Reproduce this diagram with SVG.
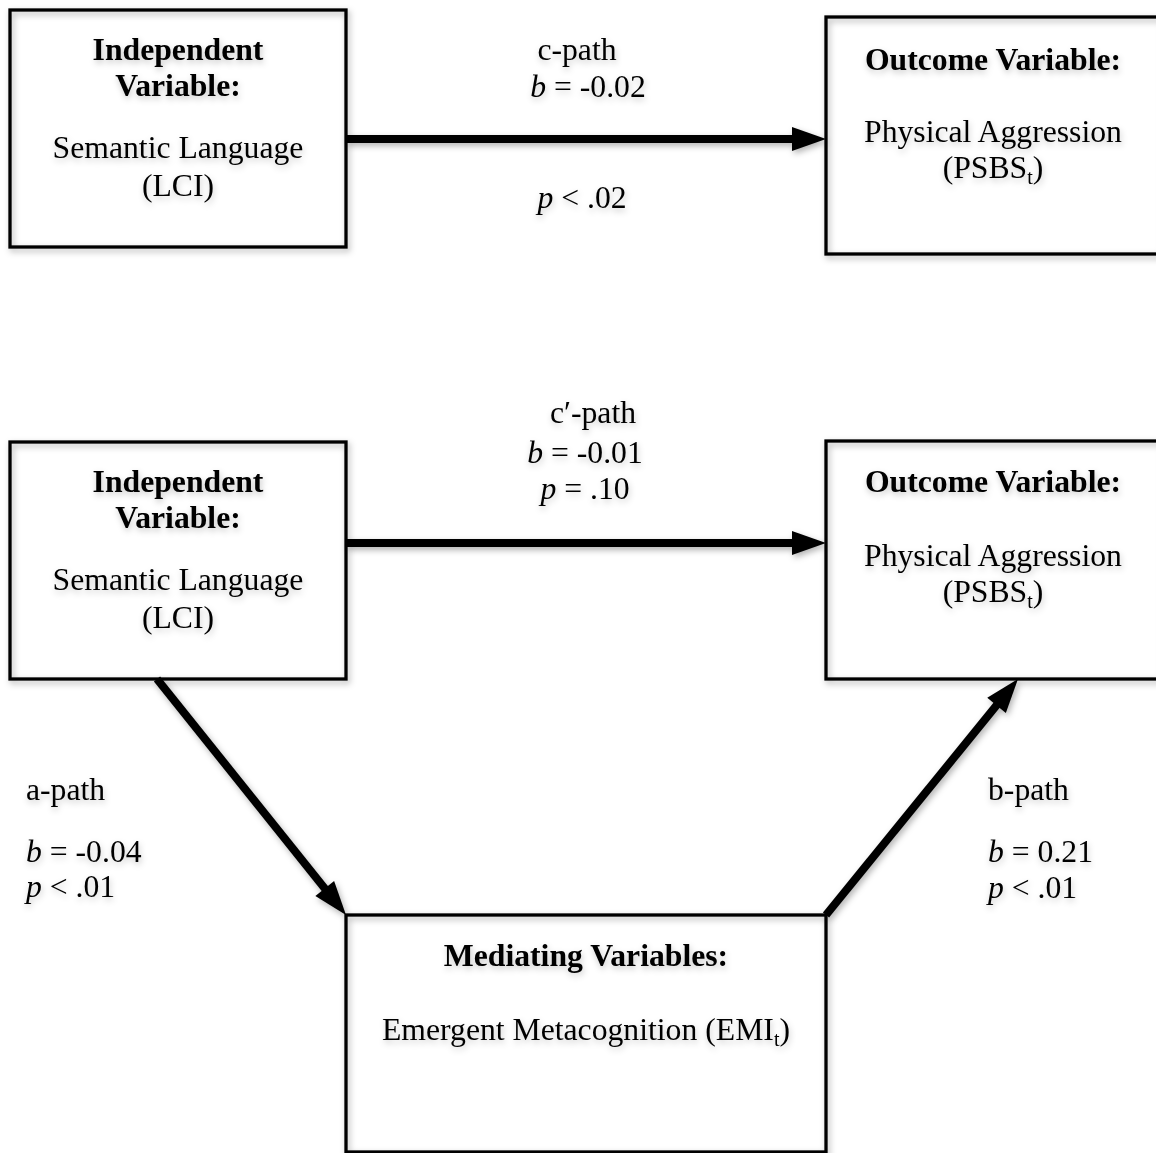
<svg xmlns="http://www.w3.org/2000/svg" width="1156" height="1153" viewBox="0 0 1156 1153">
<defs>
<filter id="sh" x="-10%" y="-10%" width="120%" height="120%">
<feDropShadow dx="2" dy="3" stdDeviation="3" flood-color="#000" flood-opacity="0.3"/>
</filter>
<filter id="csh" filterUnits="userSpaceOnUse" x="0" y="0" width="1156" height="1153">
<feDropShadow dx="2" dy="3" stdDeviation="3" flood-color="#000" flood-opacity="0.3"/>
</filter>
<filter id="tsh" x="-10%" y="-30%" width="120%" height="160%">
<feDropShadow dx="1" dy="3" stdDeviation="3" flood-color="#000" flood-opacity="0.22"/>
</filter>
<marker id="ah" markerUnits="userSpaceOnUse" markerWidth="36" markerHeight="24" refX="2" refY="12" orient="auto" overflow="visible">
<path d="M0,0 L34,12 L0,24 Z" fill="#000"/>
</marker>
<style>
.box{fill:none;stroke:#000;stroke-width:3.3;filter:url(#sh)}
.t{font-family:"Liberation Serif","Times New Roman",serif;font-size:31.7px;fill:#000;filter:url(#tsh)}
.c{text-anchor:middle}
.b{font-weight:bold}
.i{font-style:italic}
.con{stroke:#000;stroke-width:8;fill:none;marker-end:url(#ah)}
</style>
</defs>
<rect width="1156" height="1153" fill="#fff"/>

<g id="connectors" filter="url(#csh)">
<line class="con" x1="346" y1="139" x2="794" y2="139"/>
<line class="con" x1="346" y1="543" x2="794" y2="543"/>
<line class="con" x1="157" y1="679" x2="326" y2="890"/>
<line class="con" x1="826" y1="915" x2="997.8" y2="703.8"/>
</g>

<g id="iv-top">
<rect class="box" x="10" y="10" width="336" height="237"/>
<text class="t c b" x="178" y="60">Independent</text>
<text class="t c b" x="178" y="96">Variable:</text>
<text class="t c" x="178" y="158">Semantic Language</text>
<text class="t c" x="178" y="196">(LCI)</text>
</g>

<g id="ov-top">
<rect class="box" x="826" y="17" width="336" height="237"/>
<text class="t c b" x="993" y="70">Outcome Variable:</text>
<text class="t c" x="993" y="142">Physical Aggression</text>
<text class="t c" x="993" y="178">(PSBS<tspan font-size="20" dy="6">t</tspan><tspan dy="-6">)</tspan></text>
</g>

<g id="c-path-label">
<text class="t c" x="577" y="60">c-path</text>
<text class="t c" x="588" y="97"><tspan class="i">b</tspan> = -0.02</text>
<text class="t c" x="582" y="208"><tspan class="i">p</tspan> &lt; .02</text>
</g>

<g id="iv-bottom">
<rect class="box" x="10" y="442" width="336" height="237"/>
<text class="t c b" x="178" y="492">Independent</text>
<text class="t c b" x="178" y="528">Variable:</text>
<text class="t c" x="178" y="590">Semantic Language</text>
<text class="t c" x="178" y="628">(LCI)</text>
</g>

<g id="ov-bottom">
<rect class="box" x="826" y="441" width="336" height="238"/>
<text class="t c b" x="993" y="492">Outcome Variable:</text>
<text class="t c" x="993" y="566">Physical Aggression</text>
<text class="t c" x="993" y="602">(PSBS<tspan font-size="20" dy="6">t</tspan><tspan dy="-6">)</tspan></text>
</g>

<g id="cprime-label">
<text class="t c" x="593" y="423">c′-path</text>
<text class="t c" x="585" y="463"><tspan class="i">b</tspan> = -0.01</text>
<text class="t c" x="585" y="499"><tspan class="i">p</tspan> = .10</text>
</g>

<g id="a-label">
<text class="t" x="26" y="800">a-path</text>
<text class="t" x="26" y="862"><tspan class="i">b</tspan> = -0.04</text>
<text class="t" x="26" y="897"><tspan class="i">p</tspan> &lt; .01</text>
</g>

<g id="b-label">
<text class="t" x="988" y="800">b-path</text>
<text class="t" x="988" y="862"><tspan class="i">b</tspan> = 0.21</text>
<text class="t" x="988" y="898"><tspan class="i">p</tspan> &lt; .01</text>
</g>

<g id="mediator">
<rect class="box" x="346" y="915" width="480" height="237"/>
<text class="t c b" x="586" y="966">Mediating Variables:</text>
<text class="t c" x="586" y="1040">Emergent Metacognition (EMI<tspan font-size="20" dy="6">t</tspan><tspan dy="-6">)</tspan></text>
</g>
</svg>
